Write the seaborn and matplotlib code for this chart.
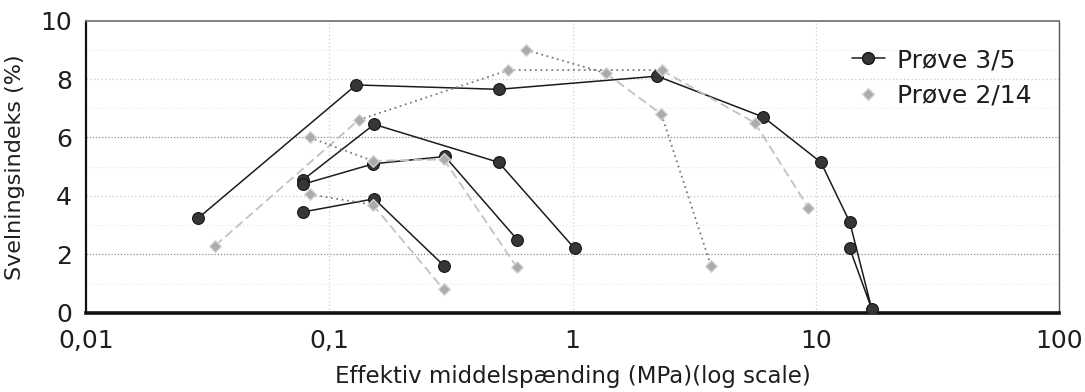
import numpy as np
import pandas as pd
import matplotlib
matplotlib.use("Agg")
import matplotlib.pyplot as plt
from matplotlib.lines import Line2D
import seaborn as sns

sns.set_theme(style="white")
plt.rcParams["font.family"] = ["DejaVu Sans"]

# ---- Prøve 3/5: swelling index (%) vs effective mean stress (MPa) ----
p35_a_x = [0.029, 0.129, 0.497, 2.23, 6.09, 10.5, 13.8, 17.0, 13.8]
p35_a_y = [3.25, 7.8, 7.65, 8.1, 6.7, 5.15, 3.1, 0.12, 2.2]
p35_b_x = [0.078, 0.153, 0.497, 1.02]
p35_b_y = [4.55, 6.45, 5.15, 2.2]
p35_c_x = [0.078, 0.152, 0.299, 0.593]
p35_c_y = [4.4, 5.1, 5.35, 2.5]
p35_d_x = [0.078, 0.153, 0.297]
p35_d_y = [3.45, 3.9, 1.6]

# ---- Prøve 2/14 ----
p214_a_x = [0.034, 0.132, 0.542, 2.33, 5.62, 9.32]
p214_a_y = [2.3, 6.6, 8.3, 8.3, 6.5, 3.6]
p214_b_x = [0.083, 0.151, 0.296, 0.591]
p214_b_y = [6.0, 5.2, 5.25, 1.55]
p214_c_x = [0.083, 0.151, 0.295]
p214_c_y = [4.05, 3.7, 0.8]
p214_d_x = [0.642, 1.373, 2.32, 3.71]
p214_d_y = [9.0, 8.2, 6.8, 1.6]

# line pattern of each connecting segment in the Prøve 2/14 curves
p214_a_ls = ["dash", "dot", "dot", "dash", "dash"]
p214_b_ls = ["dot", "dash", "dash"]
p214_c_ls = ["dot", "dash"]
p214_d_ls = ["dot", "dash", "dot"]

x_ticks = [0.01, 0.1, 1, 10, 100]
x_tick_labels = ["0,01", "0,1", "1", "10", "100"]
y_ticks = [0, 2, 4, 6, 8, 10]
series_names = ["Prøve 3/5", "Prøve 2/14"]

# ---- tidy tables ----
curves35 = [(p35_a_x, p35_a_y), (p35_b_x, p35_b_y),
            (p35_c_x, p35_c_y), (p35_d_x, p35_d_y)]
df35 = pd.concat([pd.DataFrame({"x": xs, "y": ys, "curve": i})
                  for i, (xs, ys) in enumerate(curves35)], ignore_index=True)

curves214 = [(p214_a_x, p214_a_y, p214_a_ls), (p214_b_x, p214_b_y, p214_b_ls),
             (p214_c_x, p214_c_y, p214_c_ls), (p214_d_x, p214_d_y, p214_d_ls)]
pts214 = pd.concat([pd.DataFrame({"x": xs, "y": ys}) for xs, ys, _ in curves214],
                   ignore_index=True)
seg_rows = []
seg_id = 0
for xs, ys, styles in curves214:
    for k, st in enumerate(styles):
        for j in (k, k + 1):
            seg_rows.append({"x": xs[j], "y": ys[j], "seg": seg_id, "ls": st})
        seg_id += 1
segs214 = pd.DataFrame(seg_rows)

# ---- figure ----
fig = plt.figure(figsize=(10.85, 3.92), dpi=100)
ax = fig.add_axes([86 / 1085, 1 - 312.7 / 392, 973 / 1085, 292 / 392])
ax.set_xscale("log")

# faint grid
for yv in [1, 3, 5, 7, 9]:
    ax.axhline(yv, color="#e6e6e6", lw=0.8, ls=(0, (1, 2)), zorder=0)
for yv in [2, 6]:
    ax.axhline(yv, color="#8c8c8c", lw=0.9, ls=(0, (1, 1.5)), zorder=0)
for yv in [4, 8]:
    ax.axhline(yv, color="#c8c8c8", lw=0.9, ls=(0, (1, 2)), zorder=0)
for xv in x_ticks[1:-1]:
    ax.axvline(xv, color="#cfcfcf", lw=0.9, ls=(0, (1, 2)), zorder=0)

# Prøve 3/5 lines and markers
sns.lineplot(data=df35, x="x", y="y", units="curve", estimator=None, sort=False,
             color="#1c1c1c", lw=1.1, ax=ax, legend=False, zorder=2)
sns.scatterplot(data=df35, x="x", y="y", marker="o", s=72, color="#363636",
                edgecolor="#141414", linewidth=0.8, ax=ax, legend=False, zorder=3)

# Prøve 2/14 lines and markers
sns.lineplot(data=segs214, x="x", y="y", units="seg", estimator=None, sort=False,
             hue="ls", style="ls",
             palette={"dot": "#7c7c7c", "dash": "#c2c2c2"},
             dashes={"dot": (1, 2), "dash": (5, 2.5)},
             lw=1.3, ax=ax, legend=False, zorder=2)
sns.scatterplot(data=pts214, x="x", y="y", marker="D", s=36, color="#ababab",
                edgecolor="#d6d6d6", linewidth=0.9, ax=ax, legend=False, zorder=4)

ax.set_xlim(0.01, 100)
ax.set_ylim(0, 10)
ax.set_xticks(x_ticks)
ax.set_xticklabels(x_tick_labels)
ax.xaxis.set_minor_locator(matplotlib.ticker.NullLocator())
ax.set_yticks(y_ticks)
ax.set_yticklabels([str(v) for v in y_ticks])
ax.tick_params(axis="both", length=0, labelsize=18, colors="#1e1e1e")
ax.tick_params(axis="x", pad=12)
ax.tick_params(axis="y", pad=10)

ax.set_xlabel("Effektiv middelspænding (MPa)(log scale)", fontsize=16.5, color="#1e1e1e")
ax.set_ylabel("Svelningsindeks (%)", fontsize=16, color="#1e1e1e")
ax.xaxis.set_label_coords(0.5, -0.18)
ax.yaxis.set_label_coords(-0.063, 0.5)

for side, col, lw in [("left", "#111111", 1.6), ("bottom", "#111111", 2.6),
                      ("top", "#777777", 1.3), ("right", "#555555", 1.0)]:
    ax.spines[side].set_visible(True)
    ax.spines[side].set_color(col)
    ax.spines[side].set_linewidth(lw)

handles = [
    Line2D([], [], color="#1c1c1c", lw=1.1, marker="o", markersize=8.5,
           markerfacecolor="#363636", markeredgecolor="#141414"),
    Line2D([], [], lw=0, marker="D", markersize=6,
           markerfacecolor="#ababab", markeredgecolor="#d6d6d6"),
]
ax.legend(handles, series_names, loc="upper left",
          bbox_to_anchor=((852 - 86) / 973, (312.7 - 48) / 292),
          frameon=False, fontsize=18, handlelength=1.3, handletextpad=0.5,
          labelspacing=0.45, borderaxespad=0, borderpad=0,
          labelcolor="#1e1e1e")

fig.savefig("out.png", dpi=100)
